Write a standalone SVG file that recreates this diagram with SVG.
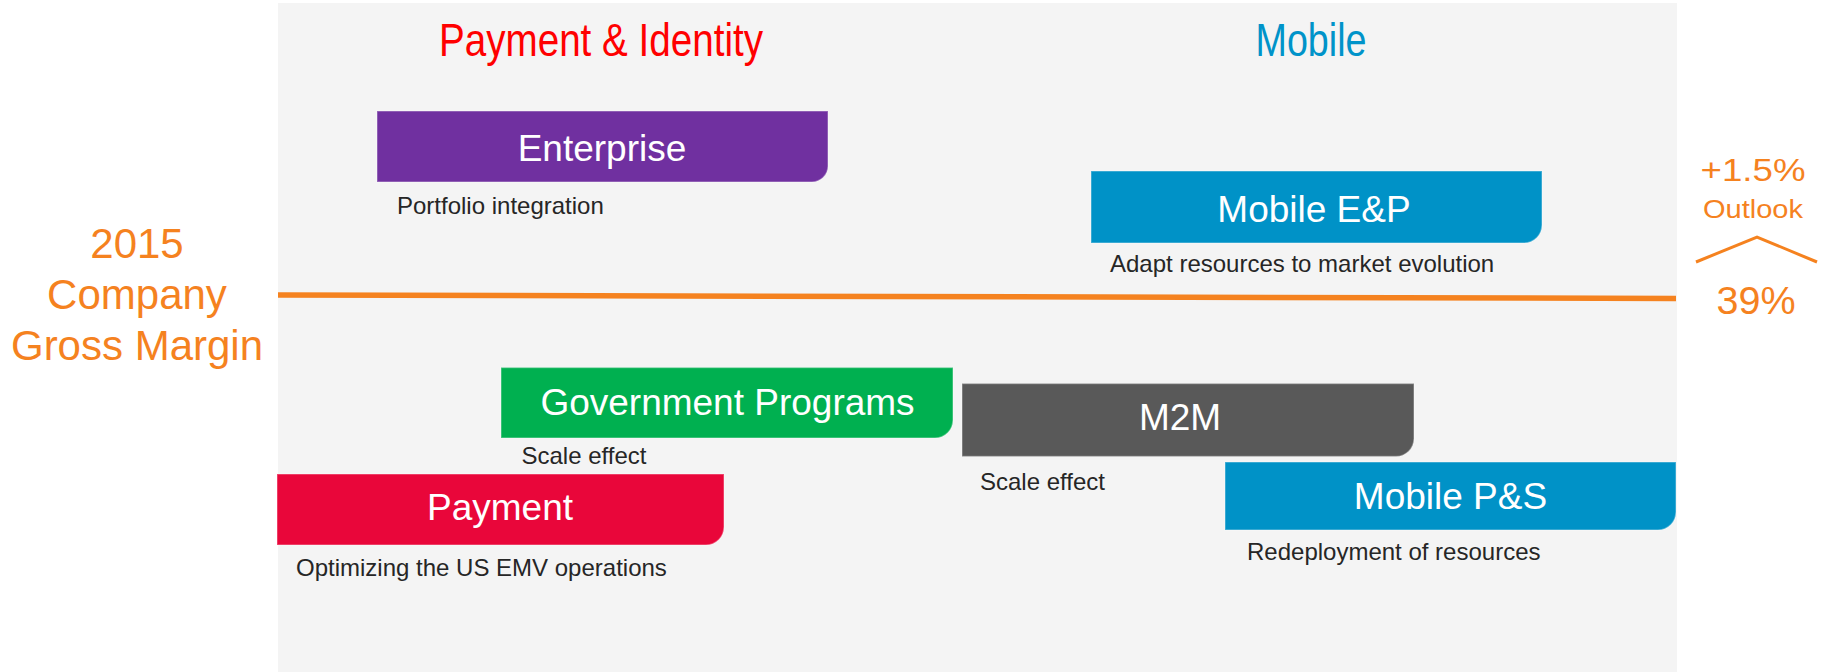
<svg xmlns="http://www.w3.org/2000/svg" width="1832" height="672" viewBox="0 0 1832 672">
  <style>
    text { font-family: "Liberation Sans", Arial, sans-serif; }
    .title { font-size: 46.5px; text-anchor: middle; }
    .label { font-size: 37px; fill: #ffffff; text-anchor: middle; }
    .note { font-size: 24px; fill: #262626; }
    .orange { fill: #F5821F; text-anchor: middle; }
    .box { stroke: #ffffff; stroke-opacity: 0.3; stroke-width: 1.5; }
  </style>

  <!-- background -->
  <rect x="0" y="0" width="1832" height="672" fill="#ffffff"/>
  <rect id="panel" x="278" y="3" width="1399" height="669" fill="#F4F4F4"/>

  <!-- segment headers -->
  <g id="header-payment-identity">
    <text class="title" x="601" y="56" fill="#FF0000" textLength="324" lengthAdjust="spacingAndGlyphs">Payment &amp; Identity</text>
  </g>
  <g id="header-mobile">
    <text class="title" x="1311" y="56" fill="#0093C9" textLength="111" lengthAdjust="spacingAndGlyphs">Mobile</text>
  </g>

  <!-- 2015 gross margin reference line -->
  <g id="connectors">
    <line x1="278" y1="295" x2="1676" y2="298.5" stroke="#F5821F" stroke-width="5.5"/>
    <polyline points="1696,262 1757,237 1817,262" fill="none" stroke="#F5821F" stroke-width="3"/>
  </g>

  <!-- left caption -->
  <g id="gross-margin-label">
    <text class="orange" x="137" y="257.5" font-size="42">2015</text>
    <text class="orange" x="137" y="308.5" font-size="42">Company</text>
    <text class="orange" x="137" y="359.5" font-size="42">Gross Margin</text>
  </g>

  <!-- right outlook -->
  <g id="outlook">
    <text class="orange" x="1753" y="181" font-size="31" textLength="105" lengthAdjust="spacingAndGlyphs">+1.5%</text>
    <text class="orange" x="1753" y="217.5" font-size="26.5" textLength="100" lengthAdjust="spacingAndGlyphs">Outlook</text>
    <text class="orange" x="1756" y="313.5" font-size="39.5">39%</text>
  </g>

  <!-- business lines: rectangles with rounded bottom-right corner -->
  <g id="enterprise">
    <path class="box" d="M377,111 H828 V166 A16,16 0 0 1 812,182 H377 Z" fill="#7030A0"/>
    <text class="label" x="602" y="161">Enterprise</text>
    <text class="note" x="397" y="214">Portfolio integration</text>
  </g>

  <g id="mobile-ep">
    <path class="box" d="M1091,171 H1542 V225 A18,18 0 0 1 1524,243 H1091 Z" fill="#0092C7"/>
    <text class="label" x="1314" y="221.5">Mobile E&amp;P</text>
    <text class="note" x="1110" y="271.5">Adapt resources to market evolution</text>
  </g>

  <g id="government-programs">
    <path class="box" d="M501,367.5 H953 V420 A18,18 0 0 1 935,438 H501 Z" fill="#00B050"/>
    <text class="label" x="727.5" y="415">Government Programs</text>
    <text class="note" x="521.5" y="463.5">Scale effect</text>
  </g>

  <g id="m2m">
    <path class="box" d="M962,383.5 H1414 V438.5 A18,18 0 0 1 1396,456.5 H962 Z" fill="#595959"/>
    <text class="label" x="1180" y="429.5">M2M</text>
    <text class="note" x="980" y="490">Scale effect</text>
  </g>

  <g id="payment">
    <path class="box" d="M277,474 H724 V527 A18,18 0 0 1 706,545 H277 Z" fill="#E9063A"/>
    <text class="label" x="500" y="520">Payment</text>
    <text class="note" x="296" y="576">Optimizing the US EMV operations</text>
  </g>

  <g id="mobile-ps">
    <path class="box" d="M1225,462 H1676 V512 A18,18 0 0 1 1658,530 H1225 Z" fill="#0092C7"/>
    <text class="label" x="1450.5" y="508.5">Mobile P&amp;S</text>
    <text class="note" x="1247" y="560">Redeployment of resources</text>
  </g>
</svg>
